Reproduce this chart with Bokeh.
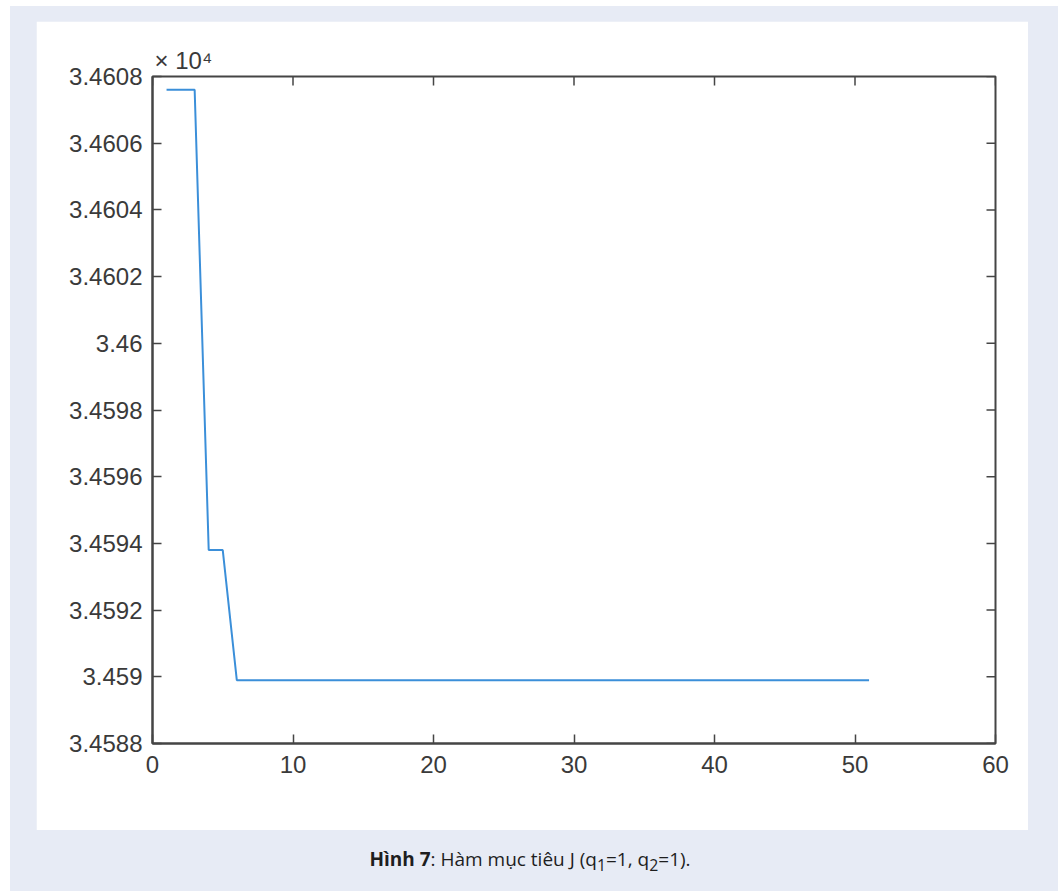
from bokeh.plotting import figure
from bokeh.models import LinearAxis, FixedTicker, Range1d, Div, Spacer
from bokeh.layouts import column, row
from bokeh.embed import file_html
from bokeh.resources import INLINE
import math

# ---- data (J values shown in units of 1e4) ----
iterations = [1, 2, 3, 4, 5, 6, 7, 8, 9, 10, 11, 12, 13, 14, 15, 16, 17, 18, 19, 20,
              21, 22, 23, 24, 25, 26, 27, 28, 29, 30, 31, 32, 33, 34, 35, 36, 37, 38, 39, 40,
              41, 42, 43, 44, 45, 46, 47, 48, 49, 50, 51]
J_scaled = [3.46076, 3.46076, 3.46076, 3.45938, 3.45938] + [
    3.45899, 3.45899, 3.45899, 3.45899, 3.45899, 3.45899, 3.45899, 3.45899, 3.45899, 3.45899,
    3.45899, 3.45899, 3.45899, 3.45899, 3.45899, 3.45899, 3.45899, 3.45899, 3.45899, 3.45899,
    3.45899, 3.45899, 3.45899, 3.45899, 3.45899, 3.45899, 3.45899, 3.45899, 3.45899, 3.45899,
    3.45899, 3.45899, 3.45899, 3.45899, 3.45899, 3.45899, 3.45899, 3.45899, 3.45899, 3.45899,
    3.45899, 3.45899, 3.45899, 3.45899, 3.45899, 3.45899]

x_ticks = [0, 10, 20, 30, 40, 50, 60]
y_ticks = [3.4588, 3.459, 3.4592, 3.4594, 3.4596, 3.4598, 3.46, 3.4602, 3.4604, 3.4606, 3.4608]
y_tick_labels = ["3.4588", "3.459", "3.4592", "3.4594", "3.4596", "3.4598", "3.46",
                 "3.4602", "3.4604", "3.4606", "3.4608"]
exponent_text = "× 10⁴"
caption_html = ("<b>Hình 7</b>: Hàm mục tiêu J (q<sub>1</sub>=1, q<sub>2</sub>=1).")

# ---- style ----
AX = "#454545"
LINE = "#3b8fd9"
BG = "#e7ebf5"
FONT = "Liberation Sans"
FS = "24px"
TXT = "#3a3a3a"

x0, x1 = x_ticks[0], x_ticks[-1]
y0, y1 = y_ticks[0], y_ticks[-1]

p = figure(width=992, height=809, output_backend="svg", toolbar_location=None,
           x_range=Range1d(x0, x1), y_range=Range1d(y0, y1),
           x_axis_location=None, y_axis_location=None,
           min_border_left=116, min_border_right=33, min_border_top=55, min_border_bottom=87)
p.outline_line_color = AX
p.outline_line_width = 2
p.background_fill_color = "white"
p.border_fill_color = "white"
p.xgrid.visible = False
p.ygrid.visible = False

# MATLAB-style exponent shown above the axes
p.title.text = exponent_text
p.title.align = "left"
p.title.offset = 2
p.title.standoff = 5
p.title.text_font = FONT
p.title.text_font_size = FS
p.title.text_font_style = "normal"
p.title.text_color = TXT

p.line(iterations, J_scaled, line_color=LINE, line_width=2)

# inward ticks on top and right edges (half of each dash is clipped by the frame)
p.scatter(x_ticks, [y1] * len(x_ticks), marker="dash", size=18, angle=math.pi / 2,
          line_color=AX, line_width=1.5)
p.scatter([x1] * len(y_ticks), y_ticks, marker="dash", size=18,
          line_color=AX, line_width=1.5)


def style_axis(ax, ticks):
    ax.ticker = FixedTicker(ticks=ticks)
    ax.axis_line_color = AX
    ax.axis_line_width = 2
    ax.major_tick_line_color = AX
    ax.major_tick_line_width = 1.5
    ax.major_tick_in = 9
    ax.major_tick_out = 0
    ax.minor_tick_line_color = None
    ax.major_label_text_font = FONT
    ax.major_label_text_font_size = FS
    ax.major_label_text_color = TXT


bottom = LinearAxis()
style_axis(bottom, x_ticks)
bottom.major_label_standoff = 12
left = LinearAxis()
style_axis(left, y_ticks)
left.major_label_standoff = 10
left.major_label_overrides = {t: s for t, s in zip(y_ticks, y_tick_labels)}
p.add_layout(bottom, "below")
p.add_layout(left, "left")

caption = Div(text=('<div style="width:1048px;text-align:center;padding-top:11px;margin-left:-9px;'
                    'font-family:\'Open Sans\';font-size:19px;line-height:26px;color:#1e1e1e">'
                    + caption_html + '</div>'),
              width=1048, height=61, styles={"background-color": BG})

blue = column(
    Spacer(width=1048, height=15, styles={"background-color": BG}),
    row(Spacer(width=26, height=809, styles={"background-color": BG}), p,
        Spacer(width=30, height=809, styles={"background-color": BG})),
    caption,
    styles={"background-color": BG},
)
page = column(Spacer(width=1058, height=6), row(Spacer(width=10, height=885), blue))

open("out.html", "w").write(file_html(page, INLINE))
